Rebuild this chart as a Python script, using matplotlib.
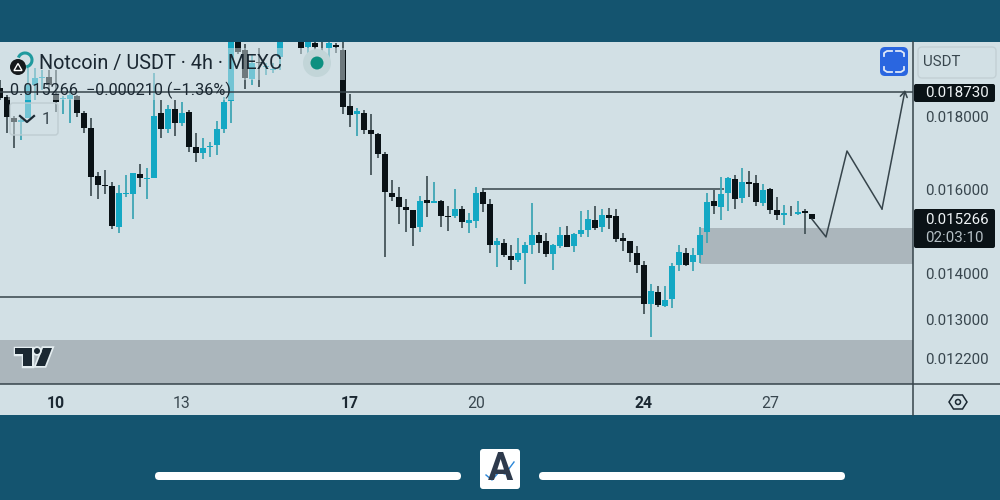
import matplotlib
matplotlib.use("Agg")
import matplotlib.pyplot as plt
import matplotlib.patheffects as pe
from matplotlib.patches import Rectangle, FancyBboxPatch, Circle, Polygon, Arc
from matplotlib.ticker import NullLocator, NullFormatter

plt.rcParams['font.family'] = ['Roboto', 'DejaVu Sans']

# prices in millionths of a USDT, one candle every 4h
opens = [18851, 18581, 17964, 17849, 17964, 18942, 19156, 19187, 18640, 18521,
         18521, 18610, 18110, 17678, 16365, 16130, 16104, 15076, 15898, 15898,
         16417, 16285, 16312, 18110, 17649, 18226, 17820, 18139, 17145, 16980,
         17145, 17201, 17649, 18462, 20299, 20038, 19125, 19657, 19500, 19400,
         19815, 20500, 20800, 20299, 20136, 20266, 20201, 20103, 20201, 20038,
         18314, 18081, 18110, 17621, 17508, 16953, 15924, 15822, 15570, 15494,
         15076, 15745, 15670, 15720, 15346, 15346, 15519, 15174, 15223, 15949,
         15645, 14647, 14694, 14390, 14297, 14460, 14647, 14884, 14741, 14436,
         14623, 14884, 14623, 14907, 15003, 15247, 15076, 15371, 15346, 14812,
         14741, 14460, 14183, 13321, 13580, 13278, 13428, 14183, 14460, 14251,
         14413, 14955, 15720, 15570, 15924, 16285, 15796, 16207, 16181, 15670,
         16026, 15494, 15371, 15450, 15395, 15469, 15395]
highs = [19094, 18640, 18022, 17964, 19468, 19468, 19405, 19405, 19405, 18610,
         18790, 18640, 18168, 17964, 16470, 16523, 16207, 16130, 16391, 16444,
         16683, 16576, 19311, 18491, 18344, 18491, 18432, 18197, 17536, 17395,
         17284, 17878, 18581, 20800, 20500, 20233, 19879, 20103, 19625, 19625,
         20700, 20900, 21000, 20400, 20400, 20350, 20364, 20350, 20266, 20299,
         18670, 18256, 18197, 18081, 17536, 17007, 16259, 16078, 15771, 15494,
         15847, 16365, 16207, 15745, 15595, 16026, 15595, 15420, 16078, 16052,
         15771, 14812, 14788, 14647, 14812, 14717, 15670, 14955, 14931, 14670,
         15076, 15101, 14931, 15469, 15494, 15595, 15519, 15545, 15519, 14931,
         14741, 14623, 14274, 13757, 13712, 13712, 14229, 14647, 14576, 14576,
         15076, 15924, 16000, 16338, 16338, 16391, 16576, 16497, 16391, 16155,
         16052, 15822, 15620, 15595, 15720, 15519, 15395]
lows = [18491, 17536, 17118, 17339, 17964, 18491, 18790, 18790, 18139, 18081,
        17820, 17993, 17536, 15847, 15771, 15898, 15027, 14931, 15822, 15272,
        16078, 15771, 16312, 17395, 17536, 17452, 17735, 17007, 16737, 16817,
        16871, 16926, 17536, 17820, 19911, 18820, 18942, 18881, 19250, 19311,
        19405, 20400, 20400, 19911, 19657, 20038, 19879, 19657, 19942, 18081,
        17706, 17452, 17508, 16391, 16844, 14367, 15720, 15149, 14955, 14623,
        14955, 15321, 15670, 15076, 14979, 15296, 15052, 14931, 15052, 15445,
        14460, 14137, 14367, 14069, 14251, 13757, 14436, 14460, 14367, 14069,
        14576, 14600, 14483, 14836, 14836, 15003, 14955, 15027, 14717, 14506,
        14251, 14002, 13109, 12633, 13257, 13257, 13236, 14047, 14160, 14047,
        14229, 14694, 15395, 15247, 15469, 15519, 15670, 15822, 15595, 15595,
        15395, 15247, 15125, 15346, 15371, 14907, 15266]
closes = [18551, 17993, 17849, 17906, 18942, 19156, 19187, 18942, 18432, 18551,
          18640, 18110, 17678, 16338, 16130, 16104, 15101, 15924, 15924, 16444,
          16312, 16312, 18022, 17649, 18226, 17820, 18110, 17145, 16980, 17118,
          17173, 17649, 18432, 20500, 19974, 19156, 19625, 19625, 19530, 19430,
          20400, 20800, 20500, 20103, 20299, 20136, 20190, 20266, 20136, 18285,
          18052, 18168, 17621, 17508, 16953, 15949, 15822, 15570, 15494, 15052,
          15720, 15670, 15720, 15346, 15321, 15519, 15198, 15247, 15924, 15645,
          14647, 14741, 14413, 14297, 14460, 14647, 14884, 14694, 14436, 14647,
          14884, 14600, 14907, 15003, 15272, 15052, 15371, 15296, 14788, 14741,
          14460, 14183, 13321, 13602, 13300, 13407, 14160, 14483, 14183, 14413,
          14884, 15695, 15595, 15898, 16312, 15771, 16207, 16155, 15695, 16000,
          15494, 15371, 15420, 15435, 15445, 15420, 15266]

y_ticks = [0.018, 0.016, 0.014, 0.013, 0.0122]
x_ticks = [8, 26, 50, 68, 92, 110]
x_labels = ["10", "13", "17", "20", "24", "27"]
x_bold = ["10", "17", "24"]

level_top = 0.018730
level_mid = 0.016013
level_low = 0.013461
last_price = 0.015266

zone_low = (0.011712, 0.012572)
zone_high = (0.014206, 0.015052)

path_bars = [116, 118, 121, 126, 129.3]
path_prices = [0.015266, 0.014836, 0.017035, 0.015519, 0.018790]

BG = "#14546f"
PANEL = "#d2e0e5"
TEAL = "#14a8c4"
TEAL_WICK = "#3fa6b5"
BLACK = "#0a1216"
BLACK_WICK = "#46555a"
ZONE = "#abb6bc"
LINE = "#36444b"
TXT = "#38464e"
DARK = "#1b2832"

fig = plt.figure(figsize=(10, 5), dpi=100, facecolor=BG)

# ui layer in pixel coordinates, for everything around the plot
under = fig.add_axes([0, 0, 1, 1], zorder=0)
under.set_xlim(0, 1000)
under.set_ylim(500, 0)
under.axis('off')
under.add_patch(Rectangle((0, 42), 1000, 373, color=PANEL, lw=0))

ui = fig.add_axes([0, 0, 1, 1], zorder=2)
ui.set_xlim(0, 1000)
ui.set_ylim(500, 0)
ui.axis('off')
ui.patch.set_alpha(0)

ax = fig.add_axes([0, 116 / 500, 0.913, 342 / 500], zorder=1)
ax.patch.set_alpha(0)
ax.set_yscale('log')
ax.set_xlim(0, 130.43)
ax.set_ylim(0.011712, 0.020298)
for s in ax.spines.values():
    s.set_visible(False)

# candles
for i in range(len(opens)):
    o, h, l, c = [v * 1e-6 for v in (opens[i], highs[i], lows[i], closes[i])]
    up = c > o
    ax.vlines(i, l, h, color=TEAL_WICK if up else BLACK_WICK, lw=1.3, zorder=2)
    ax.bar(i, abs(c - o), bottom=min(o, c), width=0.9,
           color=TEAL if up else BLACK, lw=0, zorder=2.1)

# the legend rows wash out what is behind them
for x, y, w, h in [(0, 48, 345, 32), (8, 80, 227, 20), (10, 103, 48, 32)]:
    ax.add_patch(Rectangle((x, y), w, h, color=PANEL, alpha=0.5, lw=0,
                           transform=ui.transData, zorder=3, clip_on=False))

# zones
ax.axhspan(zone_low[0], zone_low[1], color=ZONE, lw=0, zorder=3.5)
ax.fill_between([100, 130.43], zone_high[0], zone_high[1], color=ZONE, lw=0, zorder=1.5)

# levels
ax.hlines(level_top, 0, 130.43, color=LINE, lw=1.1, zorder=4)
ax.hlines(level_mid, 69, 103.5, color=LINE, lw=1.1, zorder=1.8)
ax.hlines(level_low, 0, 92, color=LINE, lw=1.1, zorder=1.8)

# projected path
ax.plot(path_bars[:-1], path_prices[:-1], color=LINE, lw=1.1, zorder=4)
ax.annotate("", xy=(path_bars[-1], path_prices[-1]), xytext=(path_bars[-2], path_prices[-2]),
            arrowprops=dict(arrowstyle="->,head_length=0.4,head_width=0.25", color=LINE,
                            lw=1.1, shrinkA=0, shrinkB=0), zorder=4)

# axes text
ax.yaxis.tick_right()
ax.set_yticks(y_ticks)
ax.set_yticklabels([f"{v:.6f}" for v in y_ticks], fontsize=10.9, color=TXT)
ax.yaxis.set_minor_locator(NullLocator())
ax.yaxis.set_minor_formatter(NullFormatter())
ax.tick_params(axis='y', length=0, pad=8.5)
ax.set_xticks(x_ticks)
ax.set_xticklabels(x_labels, fontsize=11.3, color=TXT)
for lab in ax.get_xticklabels():
    if lab.get_text() in x_bold:
        lab.set_fontweight('bold')
        lab.set_color(DARK)
ax.tick_params(axis='x', length=0, pad=8.5)

# frame lines
ui.plot([913, 913], [42, 415], color=LINE, lw=1.1)
ui.plot([0, 1000], [384, 384], color=LINE, lw=1.1)

# price tags
ui.add_patch(FancyBboxPatch((914, 84), 81, 18, boxstyle="round,pad=0,rounding_size=2", color=BLACK, lw=0))
ui.add_patch(FancyBboxPatch((914, 209), 81, 39, boxstyle="round,pad=0,rounding_size=2", color=BLACK, lw=0))
ui.text(925, 93, f"{level_top:.6f}", color="#eef3f5", fontsize=10.9, va='center')
ui.text(925, 220, f"{last_price:.6f}", color="#eef3f5", fontsize=10.9, va='center')
ui.text(925, 238, "02:03:10", color="#b4bfc4", fontsize=10.9, va='center')

# legend
ui.text(39, 64, "Notcoin / USDT · 4h · MEXC", fontsize=14.3, color=DARK, va='center')
ui.text(10, 90, "0.015266  −0.000210 (−1.36%)", fontsize=11.7, color=DARK, va='center')
ui.add_patch(FancyBboxPatch((10, 103), 48, 32, boxstyle="round,pad=0,rounding_size=3",
                            fc='none', ec="#bfcdd2", lw=1))
ui.plot([20, 27, 34], [116, 122, 116], color=DARK, lw=1.6)
ui.text(46, 119, "1", fontsize=12, color=TXT, ha='center', va='center')

# coin icon
ui.add_patch(Arc((25, 60), 14, 14, theta1=200, theta2=80, color="#1f9a9e", lw=2.2))
ui.add_patch(Circle((18, 67), 8, color="#15191c", lw=0))
ui.add_patch(Polygon([(18, 63.5), (22, 70.5), (14, 70.5)], closed=True, fc='none', ec="white", lw=1))

# market dot
ui.add_patch(Circle((317, 63), 14, color="#c2d5d8", lw=0))
ui.add_patch(Circle((317, 63), 6.5, color="#0c9080", lw=0))

# fullscreen button
ui.add_patch(FancyBboxPatch((880, 47), 28, 29, boxstyle="round,pad=0,rounding_size=5", color="#2a66e0", lw=0))
for xs, ys in [([884, 884, 887, 892], [56, 53, 51, 51]), ([896, 901, 904, 904], [51, 51, 53, 56]),
               ([884, 884, 887, 892], [67, 70, 72, 72]), ([896, 901, 904, 904], [72, 72, 70, 67])]:
    ui.plot(xs, ys, color="#dfe8f8", lw=1.3)

# currency box
ui.add_patch(FancyBboxPatch((918, 47), 78, 31, boxstyle="round,pad=0,rounding_size=4",
                            fc='none', ec="#c3d0d5", lw=1))
ui.text(923, 62, "USDT", fontsize=10.8, color=TXT, va='center')

# tradingview mark
halo = [pe.withStroke(linewidth=2.5, foreground="#e4edf0")]
for pts in [[(15, 348), (32, 348), (32, 366), (23, 366), (23, 354), (15, 354)],
            [(43, 348), (52, 348), (45, 366), (36, 366)]]:
    ui.add_patch(Polygon(pts, closed=True, color=DARK, lw=0, path_effects=halo))
ui.add_patch(Circle((37, 351), 3, color=DARK, lw=0, path_effects=halo))

# settings hexagon
ui.add_patch(Polygon([(949, 402), (953.5, 395), (962.5, 395), (967, 402), (962.5, 409), (953.5, 409)],
                     closed=True, fc='none', ec=DARK, lw=1.1))
ui.add_patch(Circle((958, 402), 2.5, fc='none', ec=DARK, lw=1.1))

# footer
for x, w in [(155, 306), (539, 306)]:
    ui.add_patch(FancyBboxPatch((x, 472), w, 8, boxstyle="round,pad=0,rounding_size=4", color="white", lw=0))
ui.add_patch(FancyBboxPatch((480, 449), 40, 40, boxstyle="round,pad=0,rounding_size=3", color="white", lw=0))
ui.text(500, 470, "A", fontsize=27, fontweight='bold', color="#2e3a4c", ha='center', va='center')
ui.plot([486, 492, 499, 505, 514], [475, 480, 472, 474, 462], color="white", lw=2.2)
ui.plot([486, 492, 499, 505, 514], [475, 480, 472, 474, 462], color="#2a86d8", lw=1)

fig.savefig("out.png", dpi=100, facecolor=BG)
